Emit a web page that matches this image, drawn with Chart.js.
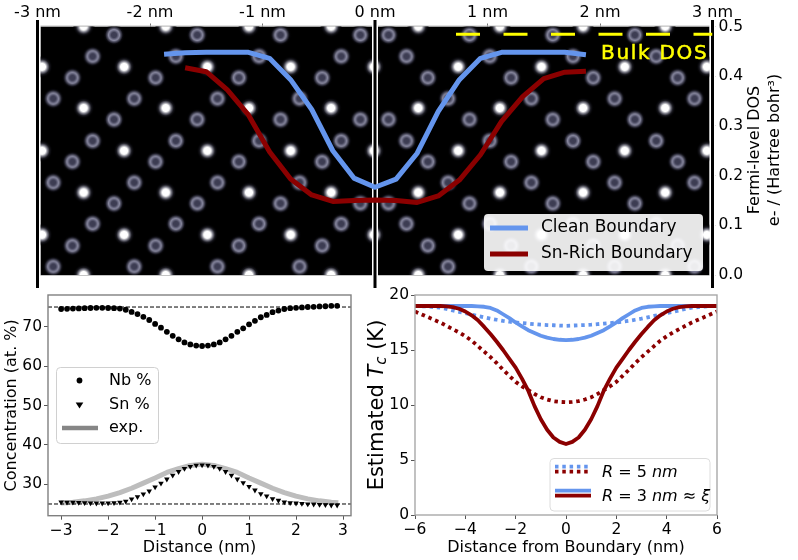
<!DOCTYPE html>
<html>
<head>
<meta charset="utf-8">
<title>Grain boundary DOS and Tc</title>
<script src="https://cdn.jsdelivr.net/npm/chart.js@4"></script>
<style>
  html, body { margin: 0; padding: 0; background: #fff; }
  canvas { position: absolute; }
</style>
</head>
<body>
<canvas id="dosChart" width="798" height="292" style="left:0px;top:0px"></canvas>
<canvas id="concChart" width="360" height="275" style="left:0px;top:285px"></canvas>
<canvas id="tcChart" width="438" height="275" style="left:360px;top:285px"></canvas>
<script>
// top panel: Fermi-level DOS over the atom image
const dosTicksX = [-3, -2, -1, 0, 1, 2, 3];
const dosTicksY = [0, 0.1, 0.2, 0.3, 0.4, 0.5];
const dosDistance = [-1.875, -1.6875, -1.5, -1.3125, -1.125, -0.9375, -0.75, -0.5625, -0.375, -0.1875, 0, 0.1875, 0.375, 0.5625, 0.75, 0.9375, 1.125, 1.3125, 1.5, 1.6875, 1.875];
const dosClean = [0.444, 0.447, 0.448, 0.448, 0.448, 0.436, 0.393, 0.333, 0.25, 0.195, 0.1765, 0.193, 0.245, 0.329, 0.393, 0.436, 0.448, 0.448, 0.448, 0.448, 0.443];
const dosSnRich = [null, 0.417, 0.409, 0.3725, 0.322, 0.248, 0.193, 0.161, 0.148, 0.15, 0.151, 0.15, 0.146, 0.159, 0.191, 0.242, 0.309, 0.359, 0.395, 0.408, 0.41];
const bulkX = [0.72, 3.0];
const bulkY = [0.4846, 0.4846];
const boundaryX = [-3, 0, 3];
const boundarySpan = [-0.026, 0.513];
const dosLabels = ['Clean Boundary', 'Sn-Rich Boundary'];
const bulkLabel = 'Bulk DOS';

// atom positions (nm, DOS axis units)
const brightRowsA = [0.419, 0.25, 0.081];
const brightXA = [-2.96, -2.23, -1.49, -0.75, -0.01, 0.74, 1.48, 2.22, 2.95];
const brightRowsB = [0.5, 0.336, 0.166, 0];
const brightXB = [-2.59, -1.86, -1.12, -0.39, 0.385, 1.11, 1.85, 2.58];
const ringRows1 = [0.483, 0.313, 0.144];
const ringX1 = [-2.32, -1.58, -0.84, -0.13, 0.12, 0.84, 1.58, 2.31];
const ringRows2 = [0.44, 0.27, 0.103];
const ringX2 = [-2.51, -1.77, -1.03, -0.3, 0.28, 1.02, 1.76, 2.5];
const ringRows3 = [0.397, 0.228, 0.059];
const ringX3 = [-2.69, -1.95, -1.21, -0.47, 0.47, 1.21, 1.94, 2.69];
const ringRows4 = [0.355, 0.186, 0.017];
const ringX4 = [-2.86, -2.14, -1.4, -0.67, 0.65, 1.39, 2.13, 2.84];

// bottom left: concentration
const concTicksX = [-3, -2, -1, 0, 1, 2, 3];
const concTicksY = [30, 40, 50, 60, 70];
const concDistance = [-3, -2.875, -2.75, -2.625, -2.5, -2.375, -2.25, -2.125, -2, -1.875, -1.75, -1.625, -1.5, -1.375, -1.25, -1.125, -1, -0.875, -0.75, -0.625, -0.5, -0.375, -0.25, -0.125, 0, 0.125, 0.25, 0.375, 0.5, 0.625, 0.75, 0.875, 1, 1.125, 1.25, 1.375, 1.5, 1.625, 1.75, 1.875, 2, 2.125, 2.25, 2.375, 2.5, 2.625, 2.75, 2.875];
const nbPercent = [74.5, 74.55, 74.6, 74.65, 74.7, 74.75, 74.8, 74.8, 74.75, 74.7, 74.6, 74.3, 73.75, 73.2, 72.5, 71.7, 70.7, 69.75, 68.7, 67.7, 66.8, 66.0, 65.5, 65.2, 65.1, 65.2, 65.5, 66.0, 66.8, 67.7, 68.7, 69.6, 70.6, 71.5, 72.4, 73.0, 73.7, 74.1, 74.5, 74.7, 74.8, 74.9, 75.0, 75.05, 75.15, 75.2, 75.3, 75.3];
const snPercent = [25.5, 25.45, 25.4, 25.35, 25.3, 25.25, 25.2, 25.2, 25.25, 25.3, 25.4, 25.7, 26.25, 26.8, 27.5, 28.3, 29.3, 30.25, 31.3, 32.3, 33.2, 34.0, 34.5, 34.8, 34.9, 34.8, 34.5, 34.0, 33.2, 32.3, 31.3, 30.4, 29.4, 28.5, 27.6, 27.0, 26.3, 25.9, 25.5, 25.3, 25.2, 25.1, 25.0, 24.95, 24.85, 24.8, 24.7, 24.7];
const expDistance = [-3, -2.75, -2.5, -2.25, -2, -1.75, -1.5, -1.25, -1, -0.75, -0.5, -0.25, 0, 0.25, 0.5, 0.75, 1, 1.25, 1.5, 1.75, 2, 2.25, 2.5, 2.75, 2.9];
const expPercent = [25.25, 25.45, 25.8, 26.3, 27.0, 27.9, 29.0, 30.3, 31.6, 33.0, 34.0, 34.8, 35.1, 34.8, 34.0, 33.0, 31.6, 30.3, 29.0, 27.9, 27.0, 26.3, 25.8, 25.45, 25.3];
const idealX = [-3.28, 3.17];
const idealNb = [75, 75];
const idealSn = [25, 25];
const concLabels = ['Nb %', 'Sn %', 'exp.'];

// bottom right: estimated Tc
const tcTicksX = [-6, -4, -2, 0, 2, 4, 6];
const tcTicksY = [0, 5, 10, 15, 20];
const tcDistance = [-6, -5.75, -5.5, -5.25, -5, -4.75, -4.5, -4.25, -4, -3.75, -3.5, -3.25, -3, -2.75, -2.5, -2.25, -2, -1.75, -1.5, -1.25, -1, -0.75, -0.5, -0.25, 0, 0.25, 0.5, 0.75, 1, 1.25, 1.5, 1.75, 2, 2.25, 2.5, 2.75, 3, 3.25, 3.5, 3.75, 4, 4.25, 4.5, 4.75, 5, 5.25, 5.5, 5.75, 6];
const cleanR3 = [19, 19, 19, 19, 19, 19, 19, 19, 19, 19, 18.97, 18.93, 18.82, 18.6, 18.25, 17.9, 17.5, 17.15, 16.8, 16.55, 16.3, 16.12, 16.0, 15.93, 15.9, 15.93, 16.0, 16.12, 16.3, 16.55, 16.8, 17.15, 17.5, 17.9, 18.25, 18.6, 18.82, 18.93, 18.97, 19, 19, 19, 19, 19, 19, 19, 19, 19, 19];
const snR3 = [19, 19, 19, 19, 19, 18.97, 18.9, 18.75, 18.5, 18.15, 17.7, 17.1, 16.45, 15.75, 15.0, 14.2, 13.4, 12.4, 11.3, 9.9, 8.7, 7.75, 7.05, 6.65, 6.45, 6.65, 7.05, 7.75, 8.7, 9.9, 11.3, 12.4, 13.4, 14.2, 15.0, 15.75, 16.45, 17.1, 17.7, 18.15, 18.5, 18.75, 18.9, 18.97, 19, 19, 19, 19, 19];
const cleanR5 = [19, 18.98, 18.95, 18.9, 18.85, 18.73, 18.6, 18.47, 18.35, 18.22, 18.1, 17.97, 17.85, 17.75, 17.65, 17.57, 17.5, 17.45, 17.4, 17.35, 17.3, 17.27, 17.25, 17.22, 17.2, 17.22, 17.25, 17.27, 17.3, 17.35, 17.4, 17.45, 17.5, 17.57, 17.65, 17.75, 17.85, 17.97, 18.1, 18.22, 18.35, 18.47, 18.6, 18.73, 18.85, 18.9, 18.95, 18.98, 19];
const snR5 = [18.5, 18.25, 18.0, 17.75, 17.5, 17.2, 16.9, 16.6, 16.25, 15.85, 15.35, 14.85, 14.35, 13.8, 13.2, 12.65, 12.1, 11.7, 11.35, 11.0, 10.7, 10.5, 10.35, 10.28, 10.25, 10.28, 10.35, 10.5, 10.7, 11.0, 11.35, 11.7, 12.1, 12.65, 13.2, 13.8, 14.35, 14.85, 15.35, 15.85, 16.25, 16.6, 16.9, 17.2, 17.5, 17.75, 18.0, 18.25, 18.5];

const BLUE = '#6495ed';
const RED = '#8b0000';
const FONT = '"DejaVu Sans"';
const TICK_SIZE = 15.5;

Chart.defaults.font.family = FONT;
Chart.defaults.color = '#000';
Chart.defaults.animation = false;

function line(xs, ys, opts) {
  return Object.assign({
    data: xs.map((x, i) => ({ x: x, y: ys[i] })),
    showLine: true, pointRadius: 0, borderJoinStyle: 'round', borderWidth: 2
  }, opts);
}

function grid(xs, rows) {
  const pts = [];
  rows.forEach(y => xs.forEach(x => pts.push({ x: x, y: y })));
  return pts;
}

// little canvases used as point styles for the two atom types
function atomSprite(stops) {
  const c = document.createElement('canvas');
  c.width = c.height = 22;
  const g = c.getContext('2d');
  const grad = g.createRadialGradient(11, 11, 0, 11, 11, 11);
  stops.forEach(s => grad.addColorStop(s[0], s[1]));
  g.fillStyle = grad;
  g.fillRect(0, 0, 22, 22);
  return c;
}
const brightAtom = atomSprite([[0, '#fff'], [0.32, '#fff'], [0.52, '#73737f'], [0.7, '#16161c'], [0.85, '#040406'], [1, 'rgba(0,0,0,0)']]);
const ringAtom = atomSprite([[0, '#3c3c52'], [0.24, '#3e3e54'], [0.42, '#74748c'], [0.5, '#88889e'], [0.62, '#4c4c5e'], [0.8, '#09090e'], [1, 'rgba(0,0,0,0)']]);

function fixedX(height) {
  return s => { s.height = height; s.paddingLeft = 0; s.paddingRight = 0; };
}
function fixedY(width) {
  return s => { s.width = width; s.paddingTop = 0; s.paddingBottom = 0; };
}
function setTicks(values) {
  return s => { s.ticks = values.map(v => ({ value: v })); };
}
function minus(v) {
  return String(v).replace('-', '\u2212');
}

// writes runs of text with mixed fonts starting at x, on one baseline
function drawRuns(ctx, runs, x, y) {
  runs.forEach(r => {
    ctx.font = r.font;
    ctx.fillText(r.text, x, y + (r.dy || 0));
    x += ctx.measureText(r.text).width;
  });
  return x;
}
function runsWidth(ctx, runs) {
  let w = 0;
  runs.forEach(r => { ctx.font = r.font; w += ctx.measureText(r.text).width; });
  return w;
}
function legendBox(ctx, x, y, w, h, fill, edge) {
  ctx.beginPath();
  ctx.roundRect(x, y, w, h, 4);
  ctx.fillStyle = fill;
  ctx.fill();
  if (edge) { ctx.strokeStyle = edge; ctx.lineWidth = 1; ctx.stroke(); }
}
function handle(ctx, x0, x1, y, color, width, dash) {
  ctx.beginPath();
  ctx.setLineDash(dash || []);
  ctx.moveTo(x0, y);
  ctx.lineTo(x1, y);
  ctx.strokeStyle = color;
  ctx.lineWidth = width;
  ctx.stroke();
  ctx.setLineDash([]);
}

// ---- top panel
const imageClip = { left: -2.5, right: -2.5, top: 0, bottom: 0 };
const dosPanel = {
  id: 'dosPanel',
  beforeDatasetsDraw(chart) {
    const ctx = chart.ctx, a = chart.chartArea;
    ctx.save();
    ctx.fillStyle = '#000';
    ctx.fillRect(a.left + 2.5, a.top, a.right - a.left - 5, a.bottom - a.top);
    ctx.strokeStyle = '#c4c4c4';
    ctx.lineWidth = 1;
    ctx.strokeRect(a.left + 2.5, a.top - 0.5, a.right - a.left - 5, a.bottom - a.top + 1);
    ctx.restore();
  },
  afterDatasetsDraw(chart) {
    const ctx = chart.ctx;
    ctx.save();
    // bulk label
    ctx.fillStyle = '#ffff00';
    ctx.strokeStyle = '#ffff00';
    ctx.lineWidth = 0.5;
    ctx.font = '20px ' + FONT;
    ctx.letterSpacing = '1.7px';
    ctx.textBaseline = 'alphabetic';
    ctx.textAlign = 'left';
    ctx.fillText(bulkLabel, 601, 59);
    ctx.strokeText(bulkLabel, 601, 59);
    ctx.letterSpacing = '0px';
    // legend
    legendBox(ctx, 484, 214, 219, 57, 'rgba(255,255,255,0.9)');
    handle(ctx, 490, 528, 228, BLUE, 5);
    handle(ctx, 490, 528, 254, RED, 5);
    ctx.fillStyle = '#000';
    ctx.font = '17px ' + FONT;
    ctx.textBaseline = 'middle';
    ctx.fillText(dosLabels[0], 541, 228);
    ctx.fillText(dosLabels[1], 541, 254);
    // right axis title, two lines reading upward
    ctx.translate(765, 150);
    ctx.rotate(-Math.PI / 2);
    ctx.textAlign = 'center';
    ctx.font = '16px ' + FONT;
    ctx.fillText('Fermi-level DOS', 0, -10);
    ctx.fillText('e- / (Hartree bohr\u00b3)', 0, 10);
    ctx.restore();
  }
};

new Chart(document.getElementById('dosChart'), {
  type: 'scatter',
  data: {
    datasets: [
      line(bulkX, bulkY, { borderColor: '#ffff00', borderWidth: 3, borderDash: [24, 23.5], order: 0 }),
      line(dosDistance, dosClean, { borderColor: BLUE, borderWidth: 5, order: 1 }),
      line(dosDistance, dosSnRich, { borderColor: RED, borderWidth: 5, order: 2 }),
      ...boundaryX.map(x => line([x, x], boundarySpan, { borderColor: '#000', borderWidth: 3, clip: false, order: 3 })),
      ...boundaryX.map(x => line([x, x], boundarySpan, { borderColor: '#fff', borderWidth: 6, clip: false, order: 4 })),
      { data: grid(brightXA, brightRowsA), pointStyle: brightAtom, pointRadius: 8, clip: imageClip, order: 5 },
      { data: grid(brightXB, brightRowsB), pointStyle: brightAtom, pointRadius: 8, clip: imageClip, order: 5 },
      { data: grid(ringX1, ringRows1), pointStyle: ringAtom, pointRadius: 8, clip: imageClip, order: 6 },
      { data: grid(ringX2, ringRows2), pointStyle: ringAtom, pointRadius: 8, clip: imageClip, order: 6 },
      { data: grid(ringX3, ringRows3), pointStyle: ringAtom, pointRadius: 8, clip: imageClip, order: 6 },
      { data: grid(ringX4, ringRows4), pointStyle: ringAtom, pointRadius: 8, clip: imageClip, order: 6 }
    ]
  },
  options: {
    responsive: false,
    layout: { padding: { left: 37.5, right: 0, top: 0, bottom: 17 } },
    plugins: { legend: { display: false }, tooltip: { enabled: false } },
    scales: {
      x: {
        type: 'linear', position: 'top', min: -3, max: 3,
        afterFit: fixedX(26.5), afterBuildTicks: setTicks(dosTicksX),
        border: { display: false },
        grid: { drawOnChartArea: false, color: '#777', tickLength: 3 },
        ticks: { font: { size: 16 }, padding: 1, autoSkip: false, maxRotation: 0, callback: v => v + ' nm' }
      },
      y: {
        type: 'linear', position: 'right', min: 0, max: 0.5,
        afterFit: fixedY(85.5), afterBuildTicks: setTicks(dosTicksY),
        border: { display: false },
        grid: { drawOnChartArea: false, color: '#777', tickLength: 3 },
        ticks: { font: { size: TICK_SIZE }, padding: 3, autoSkip: false, callback: v => v.toFixed(1) }
      }
    }
  },
  plugins: [dosPanel]
});

// ---- bottom left panel
const concPanel = {
  id: 'concPanel',
  afterDatasetsDraw(chart) {
    const ctx = chart.ctx, a = chart.chartArea;
    ctx.save();
    ctx.strokeStyle = '#808080';
    ctx.lineWidth = 1.4;
    ctx.strokeRect(a.left, a.top, a.right - a.left, a.bottom - a.top);
    legendBox(ctx, 56.5, 82.5, 102, 76, '#fff', '#d0d0d0');
    ctx.fillStyle = '#000';
    ctx.beginPath();
    ctx.arc(79.5, 95.5, 2.9, 0, Math.PI * 2);
    ctx.fill();
    ctx.beginPath();
    ctx.moveTo(75.7, 117.5);
    ctx.lineTo(83.3, 117.5);
    ctx.lineTo(79.5, 123.5);
    ctx.closePath();
    ctx.fill();
    handle(ctx, 62, 98, 143, '#868686', 4.5);
    ctx.fillStyle = '#000';
    ctx.font = '16px ' + FONT;
    ctx.textBaseline = 'middle';
    ctx.fillText(concLabels[0], 109, 96);
    ctx.fillText(concLabels[1], 109, 120);
    ctx.fillText(concLabels[2], 109, 143);
    ctx.restore();
  }
};

new Chart(document.getElementById('concChart'), {
  type: 'scatter',
  data: {
    datasets: [
      { data: concDistance.map((x, i) => ({ x: x, y: nbPercent[i] })), pointStyle: 'circle', pointRadius: 2.9, backgroundColor: '#000', borderColor: '#000', borderWidth: 0, order: 0 },
      { data: concDistance.map((x, i) => ({ x: x, y: snPercent[i] })), pointStyle: 'triangle', rotation: 180, pointRadius: 3.2, backgroundColor: '#000', borderColor: '#000', borderWidth: 0, order: 0 },
      line(idealX, idealNb, { borderColor: '#000', borderWidth: 1, borderDash: [4, 2], order: 1 }),
      line(idealX, idealSn, { borderColor: '#000', borderWidth: 1, borderDash: [4, 2], order: 1 }),
      line(expDistance, expPercent, { borderColor: '#bdbdbd', borderWidth: 5, order: 2 })
    ]
  },
  options: {
    responsive: false,
    layout: { padding: { left: 0, right: 9, top: 10, bottom: 0 } },
    plugins: { legend: { display: false }, tooltip: { enabled: false } },
    scales: {
      x: {
        type: 'linear', min: -3.28, max: 3.17,
        afterFit: fixedX(44.3), afterBuildTicks: setTicks(concTicksX),
        border: { display: false },
        grid: { drawOnChartArea: false, color: '#555', tickLength: 4 },
        ticks: { font: { size: TICK_SIZE }, padding: 2, autoSkip: false, maxRotation: 0, callback: minus },
        title: { display: true, text: 'Distance (nm)', font: { size: 16 }, padding: { top: 0, bottom: 3 } }
      },
      y: {
        type: 'linear', min: 22.03, max: 78.05,
        afterFit: fixedY(48), afterBuildTicks: setTicks(concTicksY),
        border: { display: false },
        grid: { drawOnChartArea: false, color: '#555', tickLength: 4 },
        ticks: { font: { size: TICK_SIZE }, padding: 2, autoSkip: false },
        title: { display: true, text: 'Concentration (at. %)', font: { size: 16 }, padding: { top: 2, bottom: 0 } }
      }
    }
  },
  plugins: [concPanel]
});

// ---- bottom right panel
const tcPanel = {
  id: 'tcPanel',
  afterDatasetsDraw(chart) {
    const ctx = chart.ctx, a = chart.chartArea;
    ctx.save();
    ctx.strokeStyle = '#a8a8a8';
    ctx.lineWidth = 1.4;
    ctx.strokeRect(a.left, a.top, a.right - a.left, a.bottom - a.top);
    legendBox(ctx, 190, 173.5, 160, 52.5, '#fff', '#dcdcdc');
    handle(ctx, 195, 231, 181.7, BLUE, 3.8, [3.5, 3.8]);
    handle(ctx, 195, 231, 186.7, RED, 3.8, [3.5, 3.8]);
    handle(ctx, 195, 231, 205.7, BLUE, 3.8);
    handle(ctx, 195, 231, 210.7, RED, 3.8);
    const norm = '16px ' + FONT, ital = 'italic 16px ' + FONT;
    ctx.fillStyle = '#000';
    ctx.textBaseline = 'alphabetic';
    drawRuns(ctx, [{ text: 'R', font: ital }, { text: ' = 5 ', font: norm }, { text: 'nm', font: ital }], 242, 192);
    drawRuns(ctx, [{ text: 'R', font: ital }, { text: ' = 3 ', font: norm }, { text: 'nm', font: ital }, { text: ' \u2248 ', font: norm }, { text: '\u03be', font: ital }], 242, 216);
    // y axis title has a subscript, so it is written by hand
    const big = '21px ' + FONT, bigI = 'italic 21px ' + FONT;
    const title = [{ text: 'Estimated ', font: big }, { text: 'T', font: bigI }, { text: 'c', font: 'italic 15px ' + FONT, dy: 3 }, { text: ' (K)', font: big }];
    ctx.translate(23, 120);
    ctx.rotate(-Math.PI / 2);
    drawRuns(ctx, title, -runsWidth(ctx, title) / 2, 0);
    ctx.restore();
  }
};

new Chart(document.getElementById('tcChart'), {
  type: 'scatter',
  data: {
    datasets: [
      line(tcDistance, snR3, { borderColor: RED, borderWidth: 3.8, order: 0 }),
      line(tcDistance, cleanR3, { borderColor: BLUE, borderWidth: 3.8, order: 1 }),
      line(tcDistance, snR5, { borderColor: RED, borderWidth: 3.8, borderDash: [3.5, 3.8], order: 2 }),
      line(tcDistance, cleanR5, { borderColor: BLUE, borderWidth: 3.8, borderDash: [3.5, 3.8], order: 3 })
    ]
  },
  options: {
    responsive: false,
    layout: { padding: { left: 0, right: 81, top: 10, bottom: 0 } },
    plugins: { legend: { display: false }, tooltip: { enabled: false } },
    scales: {
      x: {
        type: 'linear', min: -6, max: 6,
        afterFit: fixedX(45), afterBuildTicks: setTicks(tcTicksX),
        border: { display: false },
        grid: { drawOnChartArea: false, color: '#555', tickLength: 4 },
        ticks: { font: { size: TICK_SIZE }, padding: 2, autoSkip: false, maxRotation: 0, callback: minus },
        title: { display: true, text: 'Distance from Boundary (nm)', font: { size: 16 }, padding: { top: 0, bottom: 3 } }
      },
      y: {
        type: 'linear', min: 0, max: 20,
        afterFit: fixedY(55), afterBuildTicks: setTicks(tcTicksY),
        border: { display: false },
        grid: { drawOnChartArea: false, color: '#555', tickLength: 4 },
        ticks: { font: { size: TICK_SIZE }, padding: 2, autoSkip: false }
      }
    }
  },
  plugins: [tcPanel]
});
</script>
</body>
</html>
